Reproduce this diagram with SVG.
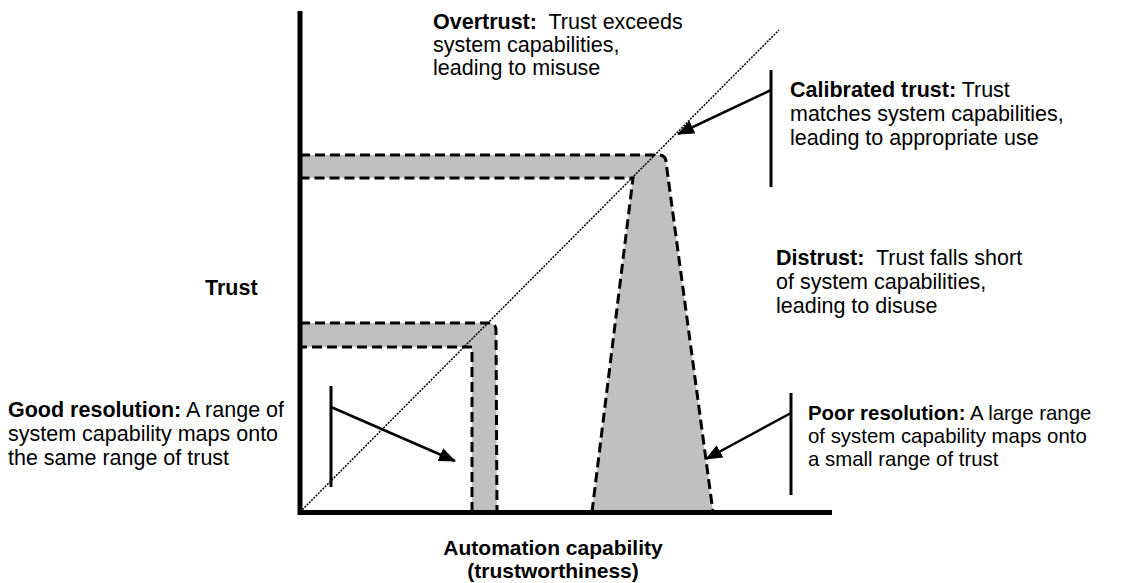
<svg xmlns="http://www.w3.org/2000/svg" width="1121" height="583" viewBox="0 0 1121 583">
<style>
  .t { font-family: "Liberation Sans", Arial, sans-serif; font-size: 21.5px; fill: #000; }
  .sm { font-size: 20.4px; }
  .ax { font-size: 21px; }
  .b { font-weight: bold; }
  .fill { fill: #c0c0c0; stroke: none; }
  .dash { fill: none; stroke: #000; stroke-width: 3; stroke-dasharray: 10 5; }
  .axis { stroke: #000; stroke-width: 5; fill: none; }
  .diag { stroke: #000; stroke-width: 1.5; stroke-dasharray: 2 1.2; fill: none; }
  .brk { stroke: #000; stroke-width: 3; fill: none; }
  .arr { stroke: #000; stroke-width: 2.5; fill: none; marker-end: url(#ah); }
</style>
<defs>
  <marker id="ah" markerUnits="userSpaceOnUse" markerWidth="18" markerHeight="14" refX="16" refY="7" orient="auto">
    <path d="M0,0 L17,7 L0,14 Z" fill="#000"/>
  </marker>
</defs>
<rect width="1121" height="583" fill="#fff"/>

<g id="high-band">
  <path class="fill" d="M300,155 L660,155 Q666,156 666,162 L713,512 L592,512 L633,178 L300,178 Z"/>
  <path class="dash" d="M300,155 L660,155 Q666,156 666,162 L713,512"/>
  <path class="dash" d="M592,512 L633,178 L300,178"/>
</g>

<g id="low-band">
  <path class="fill" d="M300,323 L490,323 Q496,324 496,330 L497,512 L472,512 L472,347 L300,347 Z"/>
  <path class="dash" d="M300,323 L490,323 Q496,324 496,330 L497,512"/>
  <path class="dash" d="M472,512 L472,347 L300,347"/>
</g>

<g id="axes">
  <line class="axis" x1="300" y1="11" x2="300" y2="515"/>
  <line class="axis" x1="298" y1="512.5" x2="832" y2="512.5"/>
  <line class="diag" x1="300" y1="512" x2="779" y2="30"/>
</g>

<g id="connectors">
  <line class="brk" x1="331" y1="386" x2="331" y2="487"/>
  <line class="arr" x1="331" y1="407" x2="455" y2="461"/>
  <line class="brk" x1="791" y1="393" x2="791" y2="495"/>
  <line class="arr" x1="791" y1="413" x2="706" y2="459"/>
  <line class="brk" x1="771" y1="70" x2="771" y2="187"/>
  <line class="arr" x1="771" y1="90" x2="678" y2="134"/>
</g>

<g id="label-overtrust">
  <text class="t" x="433" y="29" xml:space="preserve"><tspan class="b">Overtrust:</tspan>  Trust exceeds</text>
  <text class="t" x="433" y="52">system capabilities,</text>
  <text class="t" x="433" y="75">leading to misuse</text>
</g>

<g id="label-calibrated">
  <text class="t" x="790" y="97"><tspan class="b">Calibrated trust:</tspan> Trust</text>
  <text class="t" x="790" y="121">matches system capabilities,</text>
  <text class="t" x="790" y="145">leading to appropriate use</text>
</g>

<g id="label-distrust">
  <text class="t" x="776" y="265" xml:space="preserve"><tspan class="b">Distrust:</tspan>  Trust falls short</text>
  <text class="t" x="776" y="289">of system capabilities,</text>
  <text class="t" x="776" y="313">leading to disuse</text>
</g>

<g id="label-good">
  <text class="t" x="8" y="417"><tspan class="b">Good resolution:</tspan> A range of</text>
  <text class="t" x="8" y="441">system capability maps onto</text>
  <text class="t" x="8" y="465">the same range of trust</text>
</g>

<g id="label-poor">
  <text class="t sm" x="808" y="420"><tspan class="b">Poor resolution:</tspan> A large range</text>
  <text class="t sm" x="808" y="443">of system capability maps onto</text>
  <text class="t sm" x="808" y="466">a small range of trust</text>
</g>

<g id="label-trust">
  <text class="t b" x="205" y="295">Trust</text>
</g>

<g id="label-x">
  <text class="t ax b" x="553" y="555" text-anchor="middle">Automation capability</text>
  <text class="t ax b" x="553" y="578" text-anchor="middle">(trustworthiness)</text>
</g>
</svg>
